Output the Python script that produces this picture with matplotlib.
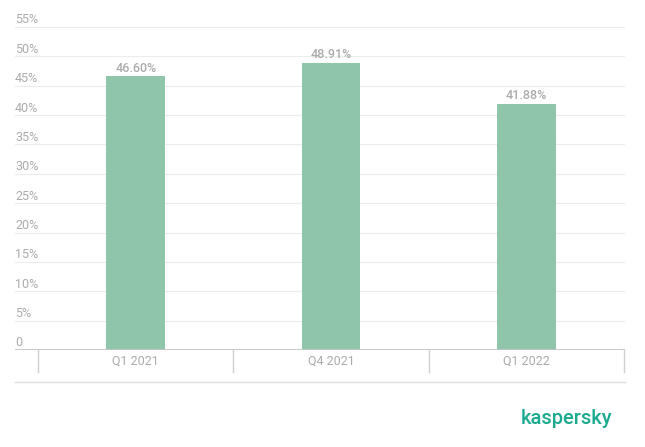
import matplotlib.pyplot as plt
from matplotlib.transforms import blended_transform_factory

categories = ["Q1 2021", "Q4 2021", "Q1 2022"]
values = [46.60, 48.91, 41.88]
value_labels = ["46.60%", "48.91%", "41.88%"]
yticks = [0, 5, 10, 15, 20, 25, 30, 35, 40, 45, 50, 55]
ytick_labels = ["0"] + [f"{v}%" for v in yticks[1:]]

plt.rcParams['font.family'] = ['Roboto', 'DejaVu Sans']

fig = plt.figure(figsize=(6.45, 4.47), dpi=100)
ax = fig.add_axes([15 / 645, 1 - 350 / 447, 610 / 645, 323 / 447])

x = list(range(len(categories)))
ax.bar(x, values, width=0.3, color="#8fc5a9", zorder=2)
ax.set_xlim(-0.618, 2.505)
ax.set_ylim(0, 55)

gray = "#ababab"
for v in yticks[1:]:
    ax.axhline(v, color="#ececec", lw=0.8, zorder=1)
ax.axhline(0, color="#c4c4c4", lw=2, zorder=3)

trans = blended_transform_factory(ax.transAxes, ax.transData)
for v, lab in zip(yticks, ytick_labels):
    ax.text(0.0, v + 0.1, lab, transform=trans, ha="left", va="bottom",
            color=gray, fontsize=9)

for xi, v, lab in zip(x, values, value_labels):
    ax.text(xi, v + 0.3, lab, ha="center", va="bottom", color=gray,
            fontsize=9, fontweight="medium")

# category separators and labels below the axis
for b in [-0.5, 0.5, 1.5, 2.5]:
    ax.plot([b, b], [0, -3.8], color="#cfcfcf", lw=1, clip_on=False)
for xi, c in zip(x, categories):
    ax.text(xi, -1.9, c, ha="center", va="center", color=gray, fontsize=9)
ax.plot([-0.618, 2.505], [-5.45, -5.45], color="#dcdcdc", lw=1, clip_on=False)

for s in ax.spines.values():
    s.set_visible(False)
ax.set_xticks([])
ax.set_yticks([])

fig.text(566 / 645, 1 - 418 / 447, "kaspersky", color="#1aaa8e", fontsize=14.5,
         ha="center", va="center", fontweight="medium")

fig.savefig("out.png", dpi=100)
